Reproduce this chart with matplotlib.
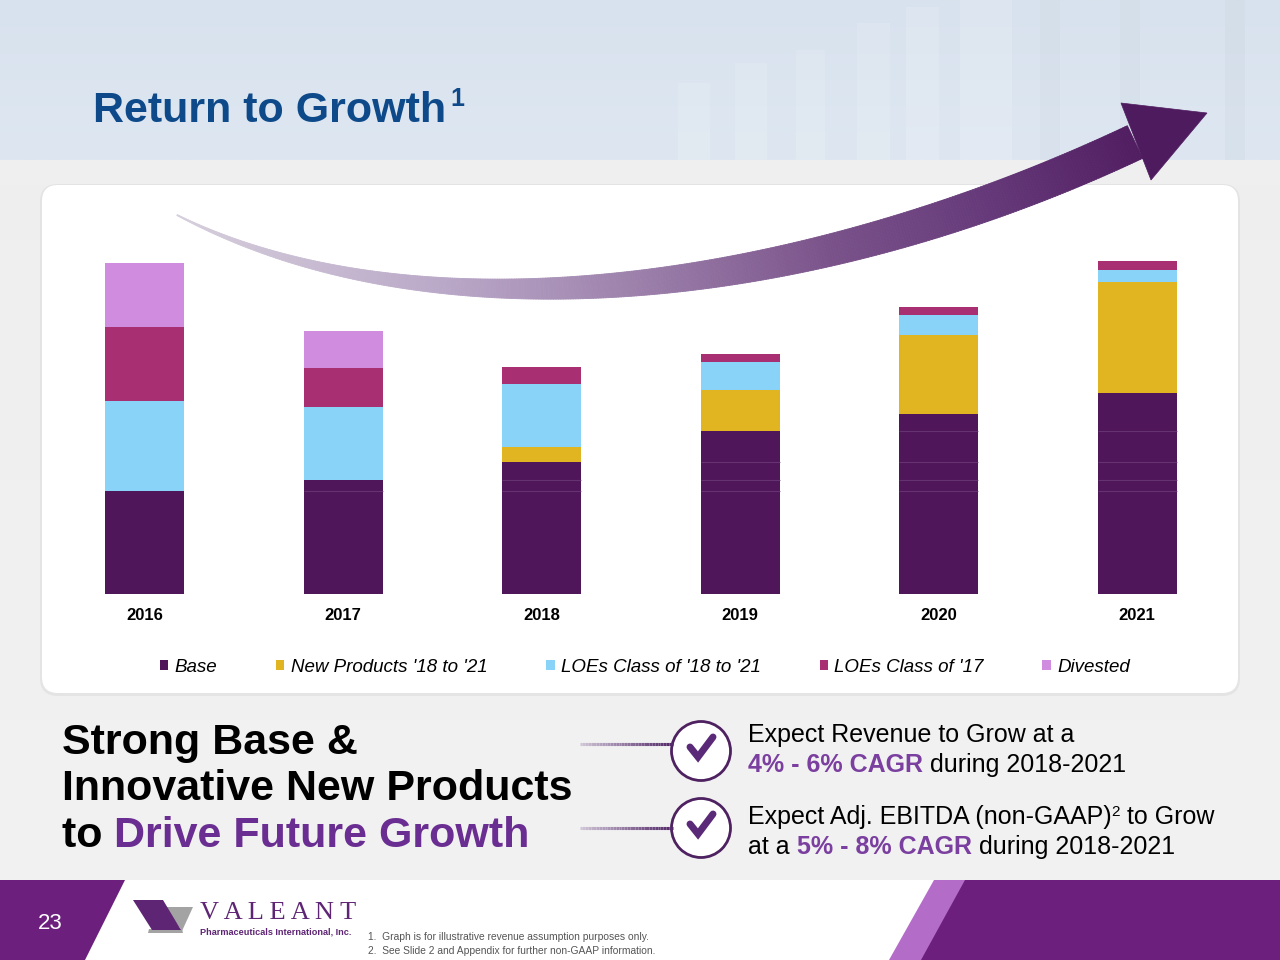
import numpy as np
import matplotlib
matplotlib.use('Agg')
import matplotlib.pyplot as plt
from matplotlib.patches import FancyBboxPatch, Polygon, Circle, Rectangle
from matplotlib.collections import PolyCollection
from matplotlib.colors import to_rgb

# ---------------- data ----------------
years = ['2016', '2017', '2018', '2019', '2020', '2021']
series_names = ['Base', "New Products '18 to '21", "LOEs Class of '18 to '21",
                "LOEs Class of '17", 'Divested']
base = [103, 114, 132, 163, 180, 201]
new_products = [0, 0, 15, 41, 79, 111]
loes_18_21 = [90, 73, 63, 28, 20, 12]
loes_17 = [74, 39, 17, 8, 8, 9]
divested = [64, 37, 0, 0, 0, 0]
series_colors = ['#4f1759', '#e1b521', '#8ad3f8', '#a82f72', '#d08ddf']

plt.rcParams['font.family'] = ['Liberation Sans', 'DejaVu Sans']

W, H = 1280, 960
fig = plt.figure(figsize=(12.8, 9.6), dpi=100)

# ---------------- background (pixel coords) ----------------
bg = fig.add_axes([0, 0, 1, 1], zorder=0)

def vgrad(c1, c2, n=64):
    a = np.array(to_rgb(c1)); b = np.array(to_rgb(c2))
    t = np.linspace(0, 1, n)[:, None]
    return (a * (1 - t) + b * t)[:, None, :]

bg.imshow(vgrad('#eeeeee', '#f2f2f2'), extent=(0, W, H, 0), aspect='auto')
bg.imshow(vgrad('#d8e2ee', '#dee7f1'), extent=(0, W, 160, 0), aspect='auto')
# faint bars in the header picture
for x0, x1, y0, col, al in [(678, 710, 83, 'white', 0.12), (735, 767, 63, 'white', 0.12),
                            (796, 825, 50, 'white', 0.12), (857, 890, 23, 'white', 0.12),
                            (906, 939, 7, 'white', 0.15), (960, 1012, 0, 'white', 0.15),
                            (1040, 1060, 0, '#c9d3de', 0.2), (1120, 1140, 0, '#c9d3de', 0.2),
                            (1225, 1245, 0, '#c9d3de', 0.25)]:
    bg.add_patch(Rectangle((x0, y0), x1 - x0, 160 - y0, fc=col, ec='none', alpha=al))
bg.add_patch(Rectangle((0, 160), W, 25, fc='#efefef', ec='none'))
# card shadow + card
bg.add_patch(FancyBboxPatch((40, 184), 1200, 512, boxstyle='round,pad=0,rounding_size=18',
                            fc='#dcdcdc', ec='none', alpha=0.6))
bg.add_patch(FancyBboxPatch((42, 185), 1196, 508, boxstyle='round,pad=0,rounding_size=16',
                            fc='white', ec='none'))
# footer
bg.add_patch(Rectangle((0, 880), W, 80, fc='white', ec='none'))
bg.add_patch(Polygon([(0, 880), (125, 880), (85, 960), (0, 960)], closed=True, fc='#6c1f7d', ec='none'))
bg.add_patch(Polygon([(934, 880), (966, 880), (922, 960), (889, 960)], closed=True, fc='#b46cc9', ec='none'))
bg.add_patch(Polygon([(965, 880), (W, 880), (W, 960), (921, 960)], closed=True, fc='#6c1f7d', ec='none'))
bg.set_xlim(0, W); bg.set_ylim(H, 0); bg.axis('off')

# ---------------- chart ----------------
ax = fig.add_axes([45.5 / W, (H - 594) / H, 1191 / W, 394 / H], zorder=1)
ax.patch.set_alpha(0)
x = np.arange(len(years))
bottom = np.zeros(len(years))
for vals, col, name in zip([base, new_products, loes_18_21, loes_17, divested],
                           series_colors, series_names):
    ax.bar(x, vals, 0.4, bottom=bottom, color=col, label=name, edgecolor='none')
    bottom += np.array(vals)
# faint build lines inside later bars
for i in range(len(years)):
    for j in range(min(i, 4)):
        ax.hlines(base[j], i - 0.2, i + 0.2, colors='#6d3f7b', lw=0.8, alpha=0.7)
ax.set_xlim(-0.5, 5.5)
ax.set_ylim(0, 394)
for s in ax.spines.values():
    s.set_visible(False)
ax.set_yticks([])
ax.set_xticks(x)
ax.set_xticklabels(years, fontsize=12, fontweight='bold', color='black')
ax.tick_params(axis='x', length=0, pad=10)
ax.legend(loc='center', bbox_to_anchor=(645 / W, (H - 667) / H), bbox_transform=fig.transFigure,
          ncol=5, frameon=False, handlelength=0.45, handleheight=0.45, handletextpad=0.35,
          columnspacing=3.12, prop={'style': 'italic', 'size': 13.5})

# ---------------- overlay (pixel coords) ----------------
ov = fig.add_axes([0, 0, 1, 1], zorder=3)
ov.patch.set_alpha(0)
ov.set_xlim(0, W); ov.set_ylim(H, 0); ov.axis('off')

# growth arrow
P = np.array([[177, 215], [420, 340], [800, 300], [1135, 142]], float)
t = np.linspace(0, 1, 400)[:, None]
B = (1 - t) ** 3 * P[0] + 3 * (1 - t) ** 2 * t * P[1] + 3 * (1 - t) * t ** 2 * P[2] + t ** 3 * P[3]
D = 3 * (1 - t) ** 2 * (P[1] - P[0]) + 6 * (1 - t) * t * (P[2] - P[1]) + 3 * t ** 2 * (P[3] - P[2])
D = D / np.linalg.norm(D, axis=1, keepdims=True)
N = np.column_stack([-D[:, 1], D[:, 0]])
wid = 1.0 + 35 * np.sin(np.pi / 2 * t[:, 0]) ** 1.15
up = B - N * wid[:, None] / 2
lo = B + N * wid[:, None] / 2
stops_x = [177, 450, 640, 831, 984, 1150]
stops_c = ['#d6cfdc', '#b9a7c7', '#9c80ab', '#7a528a', '#663a7a', '#4f1b5f']
rgb = np.array([to_rgb(c) for c in stops_c])
quads, cols = [], []
for i in range(len(B) - 1):
    quads.append([up[i], up[i + 1], lo[i + 1], lo[i]])
    xm = (B[i, 0] + B[i + 1, 0]) / 2
    cols.append([np.interp(xm, stops_x, rgb[:, k]) for k in range(3)])
ov.add_collection(PolyCollection(quads, facecolors=cols, edgecolors=cols, linewidths=0.6))
ov.add_patch(Polygon([(1121, 103), (1207, 113), (1151, 180)], closed=True, fc='#4f1b5f', ec='#4f1b5f', lw=0.5))

# title
ov.text(93, 122, 'Return to Growth', fontsize=31, fontweight='bold', color='#0e4a89', va='baseline')
ov.text(450, 106, '1', fontsize=18, fontweight='bold', color='#0e4a89', va='baseline')

renderer = fig.canvas.get_renderer()

def text_width(s, **kw):
    t1 = ov.text(0, 0, s + '|', **kw)
    t2 = ov.text(0, 0, '|', **kw)
    w = t1.get_window_extent(renderer).width - t2.get_window_extent(renderer).width
    t1.remove(); t2.remove()
    return w

def seq_text(x0, y0, pieces, **common):
    xx = x0
    for s, props in pieces:
        kw = dict(common); kw.update(props)
        dy = kw.pop('dy', 0)
        ov.text(xx, y0 + dy, s, va='baseline', **kw)
        xx += text_width(s, **kw)
    return xx

# left headline
big = dict(fontsize=31, fontweight='bold', color='black')
ov.text(62, 754, 'Strong Base &', va='baseline', **big)
ov.text(62, 800, 'Innovative New Products', va='baseline', **big)
seq_text(62, 847, [('to ', {}), ('Drive Future Growth', {'color': '#6a2d91'})], **big)

# connector lines + check circles
for yl, yc in [(744, 751), (828, 828)]:
    xs = np.linspace(580, 672, 60)
    lc = [to_rgb('#cfc4d6'), to_rgb('#55296a')]
    for k in range(len(xs) - 1):
        f = k / (len(xs) - 2)
        c = [lc[0][m] * (1 - f) + lc[1][m] * f for m in range(3)]
        ov.plot([xs[k], xs[k + 1] + 0.5], [yl, yl], color=c, lw=2.2, solid_capstyle='butt')
    ov.add_patch(Circle((701, yc), 29.5, fc='white', ec='#4e2160', lw=2))
    ov.plot([690, 698, 713], [yc - 4, yc + 6, yc - 14], color='#5a2a78', lw=5,
            solid_capstyle='round', solid_joinstyle='miter')

# right texts
rt = dict(fontsize=18, color='black')
purp = {'color': '#7b3fa0', 'fontweight': 'bold'}
ov.text(748, 742, 'Expect Revenue to Grow at a', va='baseline', **rt)
seq_text(748, 772, [('4% - 6% CAGR', purp), (' during 2018-2021', {})], **rt)
seq_text(748, 824, [('Expect Adj. EBITDA (non-GAAP)', {}), ('2', {'fontsize': 11, 'dy': -8}),
                    (' to Grow', {})], **rt)
seq_text(748, 854, [('at a ', {}), ('5% - 8% CAGR', purp), (' during 2018-2021', {})], **rt)

# footer
ov.text(38, 929, '23', fontsize=16, color='white', va='baseline')
ov.add_patch(Polygon([(149, 929), (182, 929), (183, 933), (148, 933)], closed=True, fc='#a3a3a3', ec='none'))
ov.add_patch(Polygon([(165, 907), (193, 907), (182, 931)], closed=True, fc='#a3a3a3', ec='none'))
ov.add_patch(Polygon([(133, 900), (163, 900), (181, 930), (152, 930)], closed=True, fc='#5e2574', ec='none'))
ov.text(200, 919, 'V A L E A N T', fontsize=19, family=['Liberation Serif', 'DejaVu Serif'],
        color='#5e2574', va='baseline')
ov.text(200, 935, 'Pharmaceuticals International, Inc.', fontsize=6.6, fontweight='bold',
        color='#5e2574', va='baseline')
ov.text(368, 940, '1.  Graph is for illustrative revenue assumption purposes only.', fontsize=7.4,
        color='#555555', va='baseline')
ov.text(368, 954, '2.  See Slide 2 and Appendix for further non-GAAP information.', fontsize=7.4,
        color='#555555', va='baseline')

fig.savefig('out.png', dpi=100)
